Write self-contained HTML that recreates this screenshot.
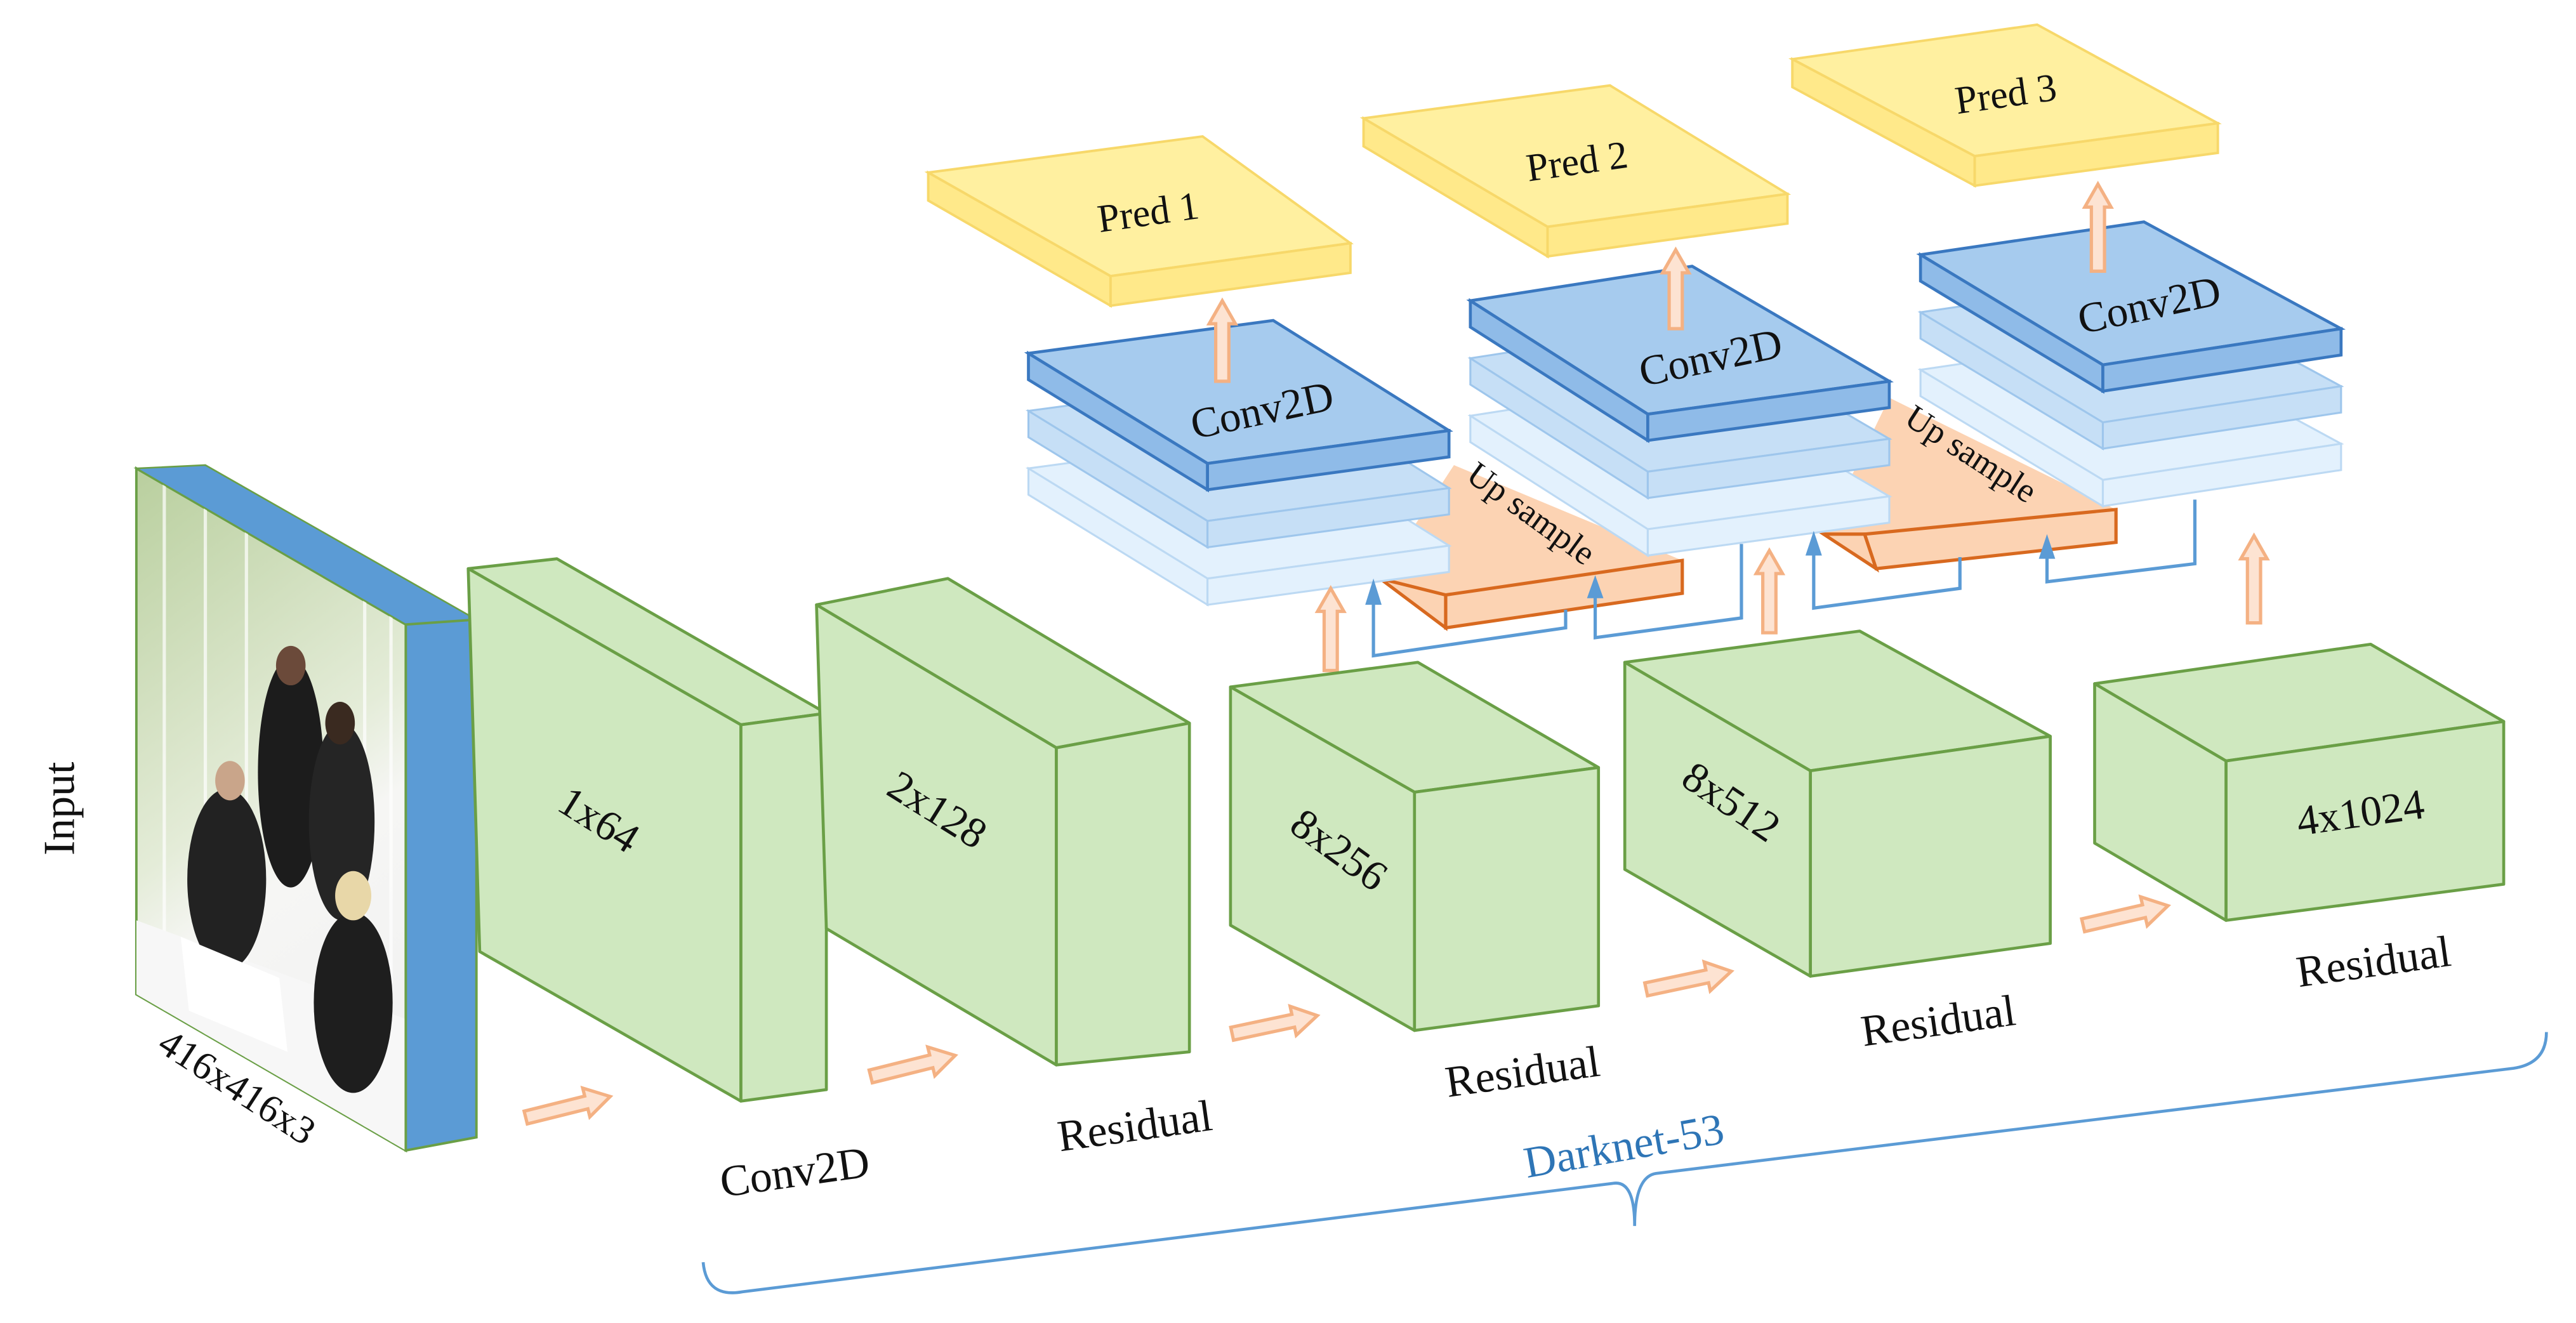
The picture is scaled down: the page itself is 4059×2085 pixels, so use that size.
<!DOCTYPE html>
<html><head><meta charset="utf-8"><style>
html,body{margin:0;padding:0;background:#fff;width:4059px;height:2085px;overflow:hidden}
svg{display:block}
text{font-family:"Liberation Serif",serif;fill:#111}
</style></head><body>
<svg width="4059" height="2085" viewBox="0 0 1568 805" preserveAspectRatio="none" xmlns="http://www.w3.org/2000/svg">
<defs>
<clipPath id="ph"><polygon points="83,285 247,380 247,700 83,605"/></clipPath>
<linearGradient id="pg" x1="0" y1="0" x2="0.3" y2="1"><stop offset="0" stop-color="#b9cf9e"/><stop offset="0.55" stop-color="#e4ecd8"/><stop offset="0.7" stop-color="#f6f6f4"/><stop offset="1" stop-color="#f2f2f2"/></linearGradient>
<g id="harr"><polygon points="0,-4 38,-4 38,-9 53,0 38,9 38,4 0,4" fill="#fde3d2" stroke="#f4b183" stroke-width="2"/></g>
</defs>

<!-- Input photo block -->
<polygon points="83,285 247,380 247,700 83,605" fill="url(#pg)" stroke="#6a9f46" stroke-width="1.5"/>
<g clip-path="url(#ph)">
<g stroke="#ffffff" stroke-width="2" opacity="0.7"><line x1="100" y1="290" x2="100" y2="620"/><line x1="125" y1="300" x2="125" y2="640"/><line x1="150" y1="315" x2="150" y2="660"/><line x1="222" y1="360" x2="222" y2="690"/><line x1="238" y1="370" x2="238" y2="700"/></g>
<polygon points="83,560 247,620 247,700 83,605" fill="#f7f7f7"/>
<ellipse cx="177" cy="470" rx="20" ry="70" fill="#1c1c1c"/>
<ellipse cx="138" cy="535" rx="24" ry="55" fill="#222"/>
<ellipse cx="208" cy="500" rx="20" ry="60" fill="#252525"/>
<ellipse cx="215" cy="610" rx="24" ry="55" fill="#1e1e1e"/>
<ellipse cx="177" cy="405" rx="9" ry="12" fill="#6b4a3a"/>
<ellipse cx="140" cy="475" rx="9" ry="12" fill="#c9a58a"/>
<ellipse cx="207" cy="440" rx="9" ry="13" fill="#3a2a20"/>
<ellipse cx="215" cy="545" rx="11" ry="15" fill="#e8d7a8"/>
<polygon points="110,570 170,595 175,640 115,615" fill="#ffffff"/>
</g>
<polygon points="83,285 125,283 290,377 247,380" fill="#5b9bd5" stroke="#6a9f46" stroke-width="1"/>
<polygon points="247,380 290,377 290,692 247,700" fill="#5b9bd5" stroke="#6a9f46" stroke-width="1.5"/>

<!-- Pred boxes -->
<g fill="#fff0a0" stroke="#f7d86a" stroke-width="1.5">
<polygon points="565,105 732,83 822,148 676,168"/><polygon points="565,105 676,168 676,186 565,122" fill="#ffe98a"/><polygon points="676,168 822,148 822,166 676,186" fill="#ffe98a"/>
<polygon points="830,72 980,52 1088,118 942,138"/><polygon points="830,72 942,138 942,156 830,89" fill="#ffe98a"/><polygon points="942,138 1088,118 1088,136 942,156" fill="#ffe98a"/>
<polygon points="1091,36 1240,15 1350,75 1202,95"/><polygon points="1091,36 1202,95 1202,113 1091,53" fill="#ffe98a"/><polygon points="1202,95 1350,75 1350,93 1202,113" fill="#ffe98a"/>
</g>

<!-- Up sample boxes -->
<g fill="#fcd3b3" stroke="#d8691f" stroke-width="2">
<polygon points="840,352 885,283 1024,341 880,362" stroke-width="0"/>
<polygon points="840,352 880,362 880,382" />
<polygon points="880,362 1024,341 1024,361 880,382"/>
<polygon points="1110,325 1150,242 1288,310 1135,325" stroke-width="0"/>
<polygon points="1110,325 1135,325 1142,346"/>
<polygon points="1135,325 1288,310 1288,330 1142,346"/>
</g>

<!-- Conv stacks -->
<g stroke-width="1.2">
<g fill="#e3f1fd" stroke="#bcd9f3"><polygon points="626,285 775,265 882,332 735,352"/><polygon points="626,285 735,352 735,368 626,301"/><polygon points="735,352 882,332 882,348 735,368"/></g>
<g fill="#c6dff6" stroke="#9ec6ec"><polygon points="626,250 775,230 882,297 735,317"/><polygon points="626,250 735,317 735,333 626,266"/><polygon points="735,317 882,297 882,313 735,333"/></g>
<g fill="#a6cbee" stroke="#3a78c0" stroke-width="1.8"><polygon points="626,215 775,195 882,262 735,282"/><polygon points="626,215 735,282 735,298 626,231" fill="#8fbbe8"/><polygon points="735,282 882,262 882,278 735,298" fill="#8fbbe8"/></g>
<g fill="#e3f1fd" stroke="#bcd9f3"><polygon points="895,253 1030,232 1150,302 1003,322"/><polygon points="895,253 1003,322 1003,338 895,269"/><polygon points="1003,322 1150,302 1150,318 1003,338"/></g>
<g fill="#c6dff6" stroke="#9ec6ec"><polygon points="895,218 1030,197 1150,267 1003,287"/><polygon points="895,218 1003,287 1003,303 895,234"/><polygon points="1003,287 1150,267 1150,283 1003,303"/></g>
<g fill="#a6cbee" stroke="#3a78c0" stroke-width="1.8"><polygon points="895,183 1030,162 1150,232 1003,252"/><polygon points="895,183 1003,252 1003,268 895,199" fill="#8fbbe8"/><polygon points="1003,252 1150,232 1150,248 1003,268" fill="#8fbbe8"/></g>
<g fill="#e3f1fd" stroke="#bcd9f3"><polygon points="1169,225 1305,205 1425,270 1280,292"/><polygon points="1169,225 1280,292 1280,308 1169,241"/><polygon points="1280,292 1425,270 1425,286 1280,308"/></g>
<g fill="#c6dff6" stroke="#9ec6ec"><polygon points="1169,190 1305,170 1425,235 1280,257"/><polygon points="1169,190 1280,257 1280,273 1169,206"/><polygon points="1280,257 1425,235 1425,251 1280,273"/></g>
<g fill="#a6cbee" stroke="#3a78c0" stroke-width="1.8"><polygon points="1169,155 1305,135 1425,200 1280,222"/><polygon points="1169,155 1280,222 1280,238 1169,171" fill="#8fbbe8"/><polygon points="1280,222 1425,200 1425,216 1280,238" fill="#8fbbe8"/></g>
</g>

<!-- blue connectors -->
<g fill="none" stroke="#5b9bd5" stroke-width="2">
<polyline points="836,366 836,399 953,382 953,371"/>
<polyline points="971,362 971,388 1060,376 1060,331"/>
<polyline points="1104,336 1104,370 1193,358 1193,339"/>
<polyline points="1246,338 1246,354 1336,343 1336,304"/>
</g>
<g fill="#5b9bd5">
<polygon points="836,352 831,368 841,368"/><polygon points="971,350 966,364 976,364"/>
<polygon points="1104,323 1099,338 1109,338"/><polygon points="1246,325 1241,340 1251,340"/>
</g>

<!-- vertical orange arrows -->
<g fill="#fde3d2" stroke="#f4b183" stroke-width="2">
<polygon points="806,408 814,408 814,372 818,372 810,358 802,372 806,372"/>
<polygon points="1073,385 1081,385 1081,349 1085,349 1077,335 1069,349 1073,349"/>
<polygon points="1368,379 1376,379 1376,340 1380,340 1372,326 1364,340 1368,340"/>
<polygon points="740,232 748,232 748,197 752,197 744,183 736,197 740,197"/>
<polygon points="1016,200 1024,200 1024,166 1028,166 1020,152 1012,166 1016,166"/>
<polygon points="1273,165 1281,165 1281,126 1285,126 1277,112 1269,126 1273,126"/>
</g>

<!-- green blocks -->
<g fill="#cfe8bf" stroke="#6a9f46" stroke-width="1.8" stroke-linejoin="round">
<polygon points="285,346 339,340 503,434 451,441"/><polygon points="285,346 451,441 451,670 292,579"/><polygon points="451,441 503,434 503,663 451,670"/>
<polygon points="497,368 577,352 724,440 643,455"/><polygon points="497,368 643,455 643,648 503,565"/><polygon points="643,455 724,440 724,640 643,648"/>
<polygon points="749,418 863,403 973,467 861,482"/><polygon points="749,418 861,482 861,627 749,563"/><polygon points="861,482 973,467 973,612 861,627"/>
<polygon points="989,403 1132,384 1248,448 1102,469"/><polygon points="989,403 1102,469 1102,594 989,529"/><polygon points="1102,469 1248,448 1248,574 1102,594"/>
<polygon points="1275,416 1443,392 1524,439 1355,463"/><polygon points="1275,416 1355,463 1355,560 1275,513"/><polygon points="1355,463 1524,439 1524,538 1355,560"/>
</g>

<!-- horizontal arrows -->
<use href="#harr" transform="translate(320,680) rotate(-14)"/>
<use href="#harr" transform="translate(530,655) rotate(-14)"/>
<use href="#harr" transform="translate(750,629) rotate(-12)"/>
<use href="#harr" transform="translate(1002,602) rotate(-12)"/>
<use href="#harr" transform="translate(1268,563) rotate(-13)"/>

<!-- brace -->
<path d="M428,768 Q430,790 452,786 L982,720 Q995,718 995,746 Q995,716 1008,714 L1530,650 Q1550,647 1550,628" fill="none" stroke="#5b9bd5" stroke-width="1.8"/>

<!-- texts -->
<text font-size="27" transform="translate(45,492) rotate(-90)" text-anchor="middle">Input</text>
<text font-size="24" text-anchor="middle" transform="translate(140,668) rotate(33)">416x416x3</text>
<text font-size="26" text-anchor="middle" transform="translate(360,506) rotate(32)">1x64</text>
<text font-size="26" text-anchor="middle" transform="translate(566,500) rotate(32)">2x128</text>
<text font-size="26" text-anchor="middle" transform="translate(810,524) rotate(36)">8x256</text>
<text font-size="26" text-anchor="middle" transform="translate(1049,495) rotate(34)">8x512</text>
<text font-size="26" text-anchor="middle" transform="translate(1438,503) rotate(-8)">4x1024</text>
<text font-size="27" text-anchor="middle" transform="translate(485,722) rotate(-8)">Conv2D</text>
<text font-size="27" text-anchor="middle" transform="translate(692,694) rotate(-8)">Residual</text>
<text font-size="27" text-anchor="middle" transform="translate(928,661) rotate(-8)">Residual</text>
<text font-size="27" text-anchor="middle" transform="translate(1181,630) rotate(-8)">Residual</text>
<text font-size="27" text-anchor="middle" transform="translate(1446,594) rotate(-8)">Residual</text>
<text font-size="27" text-anchor="middle" transform="translate(990,706) rotate(-10)" style="fill:#2e75b6">Darknet-53</text>
<text font-size="24" text-anchor="middle" transform="translate(700,137) rotate(-8)">Pred 1</text>
<text font-size="24" text-anchor="middle" transform="translate(961,106) rotate(-8)">Pred 2</text>
<text font-size="24" text-anchor="middle" transform="translate(1222,65) rotate(-8)">Pred 3</text>
<text font-size="26" text-anchor="middle" transform="translate(770,258) rotate(-12)">Conv2D</text>
<text font-size="26" text-anchor="middle" transform="translate(1043,226) rotate(-12)">Conv2D</text>
<text font-size="26" text-anchor="middle" transform="translate(1310,194) rotate(-12)">Conv2D</text>
<text font-size="21" text-anchor="middle" transform="translate(928,318) rotate(36)">Up sample</text>
<text font-size="21" text-anchor="middle" transform="translate(1196,282) rotate(33)">Up sample</text>
</svg>
</body></html>
